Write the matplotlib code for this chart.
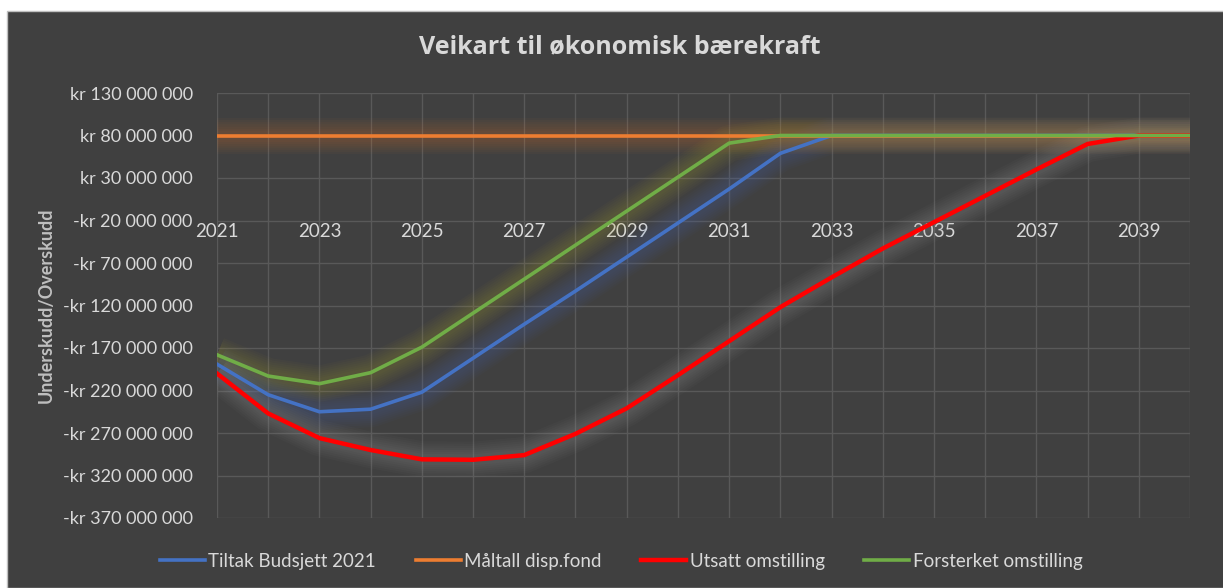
import matplotlib.pyplot as plt
from matplotlib.patches import Rectangle
from matplotlib.ticker import FuncFormatter

# Data
years = list(range(2021, 2041))
tiltak = [-189e6, -225e6, -245e6, -242e6, -222e6, -182e6, -142e6, -103e6, -63e6, -23e6,
          17e6, 59e6, 80e6, 80e6, 80e6, 80e6, 80e6, 80e6, 80e6, 80e6]
maltall = [80e6] * 20
utsatt = [-200e6, -247e6, -276e6, -290e6, -301e6, -301.5e6, -296e6, -271e6, -241e6, -202e6,
          -162e6, -122e6, -87e6, -53e6, -22e6, 9e6, 40e6, 70e6, 80e6, 80e6]
forsterket = [-178e6, -203e6, -212e6, -199e6, -169e6, -129e6, -89e6, -49e6, -9e6, 31e6,
              71e6, 80e6, 80e6, 80e6, 80e6, 80e6, 80e6, 80e6, 80e6, 80e6]

series = [
    ("Tiltak Budsjett 2021", tiltak, "#4472C4", "#4472C4", 2.6),
    ("Måltall disp.fond", maltall, "#ED7D31", "#ED7D31", 2.6),
    ("Utsatt omstilling", utsatt, "#FF0000", "#A8A8A8", 3.2),
    ("Forsterket omstilling", forsterket, "#70AD47", "#B5A838", 2.6),
]

plt.rcParams['font.family'] = ['Lato', 'DejaVu Sans']
txt = "#D9D9D9"
bg = "#404040"

fig = plt.figure(figsize=(12.23, 5.88), dpi=100, facecolor="white")
fig.patches.append(Rectangle((7 / 1223, 0), 1, 1 - 11 / 588, transform=fig.transFigure,
                             facecolor=bg, edgecolor="#BFBFBF", linewidth=1, zorder=-10))

ax = fig.add_axes([217 / 1223, 1 - 518 / 588, (1190 - 217) / 1223, (518 - 93) / 588])
ax.set_facecolor(bg)
ax.patch.set_alpha(0)

# soft glow under each line (many thin layers), then the lines
for name, vals, col, glow, w in series:
    for lw in range(26, 5, -3):
        ax.plot(years, vals, color=glow, lw=lw, alpha=0.035, solid_capstyle='butt', zorder=2)
for name, vals, col, glow, w in series:
    ax.plot(years, vals, color=col, lw=w, label=name, zorder=3)

ax.set_xlim(2021, 2040)
ax.set_ylim(-370e6, 130e6)
ax.set_yticks(range(-370000000, 130000001, 50000000))


def kr(v, pos):
    s = f"{abs(int(round(v))):,}".replace(",", " ")
    return ("-kr " if v < 0 else "kr ") + s


ax.yaxis.set_major_formatter(FuncFormatter(kr))
ax.set_xticks(years)
ax.set_xticklabels([str(y) if y % 2 == 1 else "" for y in years])

ax.grid(True, color="#595959", lw=1, zorder=1)
for s in ax.spines.values():
    s.set_visible(False)
ax.spines['bottom'].set_position(('data', -20e6))
ax.tick_params(length=0, colors=txt, labelsize=13.5)
ax.tick_params(axis='y', labelsize=13, pad=17.5)
ax.tick_params(axis='x', pad=2)

ax.set_ylabel("Underskudd/Overskudd", color="#BFBFBF", fontsize=13, fontweight='bold', labelpad=6)

fig.text(0.507, 1 - 47 / 588, "Veikart til økonomisk bærekraft", color=txt, fontsize=18,
         fontweight='bold', ha='center', va='center', family=['Open Sans', 'DejaVu Sans'])

leg = fig.legend(loc='center', bbox_to_anchor=(0.508, 1 - 561 / 588), ncol=4, frameon=False,
                 fontsize=13.5, labelcolor=txt, handlelength=2.4, handletextpad=0.2,
                 columnspacing=2.1)

fig.savefig("out.png", dpi=100, facecolor=fig.get_facecolor())
